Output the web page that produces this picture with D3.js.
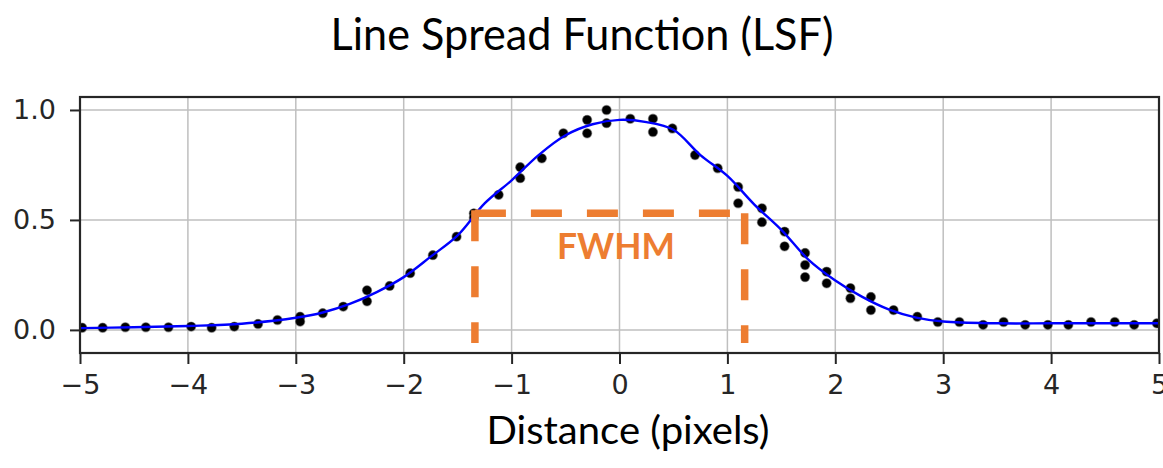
<!DOCTYPE html>
<html>
<head>
<meta charset="utf-8">
<script src="https://cdn.jsdelivr.net/npm/d3@7"></script>
<style>
  body { margin: 0; background: #fff; }
  svg { display: block; }
</style>
</head>
<body>
<svg id="chart"></svg>
<script>
// measured samples (black dots)
var sampleX = [-4.98, -4.79, -4.58, -4.39, -4.18, -3.97, -3.78, -3.57, -3.35, -3.17,
  -2.96, -2.96, -2.75, -2.56, -2.34, -2.34, -2.13, -1.94, -1.73, -1.51,
  -1.35, -1.35, -1.12, -0.92, -0.92, -0.72, -0.52, -0.30, -0.30, -0.12,
  -0.12, 0.10, 0.31, 0.31, 0.49, 0.70, 0.91, 1.10, 1.10, 1.32,
  1.32, 1.53, 1.53, 1.72, 1.72, 1.72, 1.92, 1.92, 2.14, 2.14,
  2.33, 2.33, 2.54, 2.76, 2.95, 3.15, 3.37, 3.56, 3.76, 3.97,
  4.16, 4.37, 4.59, 4.77, 4.98];
var sampleY = [0.010, 0.010, 0.012, 0.012, 0.012, 0.015, 0.010, 0.015, 0.027, 0.045,
  0.060, 0.038, 0.076, 0.106, 0.180, 0.130, 0.200, 0.258, 0.340, 0.424,
  0.530, 0.510, 0.614, 0.740, 0.690, 0.780, 0.894, 0.955, 0.894, 1.000,
  0.940, 0.960, 0.960, 0.900, 0.916, 0.795, 0.735, 0.650, 0.576, 0.553,
  0.490, 0.447, 0.380, 0.350, 0.295, 0.240, 0.265, 0.212, 0.190, 0.144,
  0.150, 0.090, 0.090, 0.060, 0.036, 0.036, 0.023, 0.036, 0.023, 0.023,
  0.023, 0.036, 0.036, 0.023, 0.030];

// fitted curve (blue)
var fitX = [-5, -4.5, -4, -3.5, -3, -2.75, -2.5, -2.25, -2, -1.75, -1.5, -1.25, -1,
  -0.75, -0.5, -0.25, 0, 0.25, 0.5, 0.75, 1, 1.25, 1.5, 1.75, 2, 2.25, 2.5, 2.75,
  3, 3.5, 4, 4.5, 5];
var fitY = [0.008, 0.012, 0.018, 0.028, 0.055, 0.079, 0.118, 0.172, 0.240, 0.333, 0.430, 0.575, 0.680,
  0.795, 0.885, 0.935, 0.955, 0.945, 0.910, 0.795, 0.700, 0.570, 0.455, 0.320, 0.225, 0.150, 0.092, 0.056,
  0.038, 0.030, 0.030, 0.030, 0.030];

var xTicks = [-5, -4, -3, -2, -1, 0, 1, 2, 3, 4, 5];
var yTicks = [0.0, 0.5, 1.0];

// FWHM annotation
var fwhmLeft = -1.34, fwhmRight = 1.16, halfMax = 0.53, fwhmBottom = -0.06;

var W = 1163, H = 468;
var plot = {left: 80, right: 1159, top: 97, bottom: 353};

var svg = d3.select("#chart")
    .attr("width", W)
    .attr("height", H);

svg.append("rect").attr("width", W).attr("height", H).attr("fill", "white");

var x = d3.scaleLinear().domain([-5, 5]).range([plot.left, plot.right]);
var y = d3.scaleLinear().domain([-0.105, 1.059]).range([plot.bottom, plot.top]);

svg.append("defs").append("clipPath").attr("id", "clip")
  .append("rect")
    .attr("x", plot.left).attr("y", plot.top)
    .attr("width", plot.right - plot.left)
    .attr("height", plot.bottom - plot.top);

// grid
var grid = svg.append("g");
grid.selectAll("line.vx").data(xTicks).enter().append("line")
    .attr("x1", d => x(d)).attr("x2", d => x(d))
    .attr("y1", plot.top).attr("y2", plot.bottom)
    .attr("stroke", "#bfbfbf").attr("stroke-width", 1.5);
grid.selectAll("line.hy").data(yTicks).enter().append("line")
    .attr("x1", plot.left).attr("x2", plot.right)
    .attr("y1", d => y(d)).attr("y2", d => y(d))
    .attr("stroke", "#bfbfbf").attr("stroke-width", 1.5);

var inner = svg.append("g").attr("clip-path", "url(#clip)");

// dots (soft halo like the upscaled original)
inner.selectAll("circle").data(d3.range(sampleX.length)).enter().append("circle")
    .attr("cx", i => x(sampleX[i]))
    .attr("cy", i => y(sampleY[i]))
    .attr("r", 4.6)
    .attr("fill", "#000")
    .attr("stroke", "#555")
    .attr("stroke-opacity", 0.5)
    .attr("stroke-width", 1.2);

// fit line
var line = d3.line()
    .x(i => x(fitX[i]))
    .y(i => y(fitY[i]))
    .curve(d3.curveCatmullRom.alpha(0.5));
inner.append("path")
    .datum(d3.range(fitX.length))
    .attr("d", line)
    .attr("fill", "none")
    .attr("stroke", "#0000ff")
    .attr("stroke-width", 2.4);

// axes
var xAxis = d3.axisBottom(x).tickValues(xTicks).tickSize(11).tickPadding(11)
    .tickFormat(d => d < 0 ? "\u2212" + Math.abs(d) : d);
var yAxis = d3.axisLeft(y).tickValues(yTicks).tickSize(10).tickPadding(14)
    .tickFormat(d3.format(".1f"));

var gx = svg.append("g").attr("transform", "translate(0," + plot.bottom + ")").call(xAxis);
var gy = svg.append("g").attr("transform", "translate(" + plot.left + ",0)").call(yAxis);
[gx, gy].forEach(function(g) {
  g.select(".domain").remove();
  g.selectAll(".tick line").attr("stroke", "#262626").attr("stroke-width", 2);
  g.selectAll(".tick text")
    .attr("fill", "#262626")
    .attr("font-family", "DejaVu Sans")
    .attr("font-size", "27px");
});

// frame
svg.append("rect")
    .attr("x", plot.left).attr("y", plot.top)
    .attr("width", plot.right - plot.left)
    .attr("height", plot.bottom - plot.top)
    .attr("fill", "none")
    .attr("stroke", "#262626")
    .attr("stroke-width", 2.2);

// FWHM dashed bracket
var orange = "#ED7D31";
var ann = svg.append("g")
    .attr("stroke", orange).attr("stroke-width", 7.5)
    .attr("stroke-dasharray", "31,25").attr("fill", "none");
ann.append("line")
    .attr("x1", x(fwhmLeft)).attr("x2", x(fwhmLeft))
    .attr("y1", y(halfMax) - 3).attr("y2", y(fwhmBottom));
ann.append("line")
    .attr("x1", x(fwhmLeft)).attr("x2", x(fwhmRight) + 4)
    .attr("y1", y(halfMax)).attr("y2", y(halfMax));
ann.append("line")
    .attr("x1", x(fwhmRight)).attr("x2", x(fwhmRight))
    .attr("y1", y(halfMax)).attr("y2", y(fwhmBottom));

svg.append("text")
    .attr("x", 616).attr("y", 259)
    .attr("text-anchor", "middle")
    .attr("font-family", "Lato")
    .attr("font-weight", "bold")
    .attr("font-size", "36px")
    .attr("fill", orange)
    .attr("textLength", 118)
    .attr("lengthAdjust", "spacingAndGlyphs")
    .text("FWHM");

// titles
svg.append("text")
    .attr("x", 582).attr("y", 50)
    .attr("text-anchor", "middle")
    .attr("font-family", "Lato")
    .attr("font-size", "44px")
    .attr("fill", "#000")
    .attr("textLength", 503)
    .attr("lengthAdjust", "spacingAndGlyphs")
    .text("Line Spread Function (LSF)");

svg.append("text")
    .attr("x", 628).attr("y", 444)
    .attr("text-anchor", "middle")
    .attr("font-family", "Lato")
    .attr("font-size", "39px")
    .attr("fill", "#000")
    .attr("textLength", 283)
    .attr("lengthAdjust", "spacingAndGlyphs")
    .text("Distance (pixels)");
</script>
</body>
</html>
